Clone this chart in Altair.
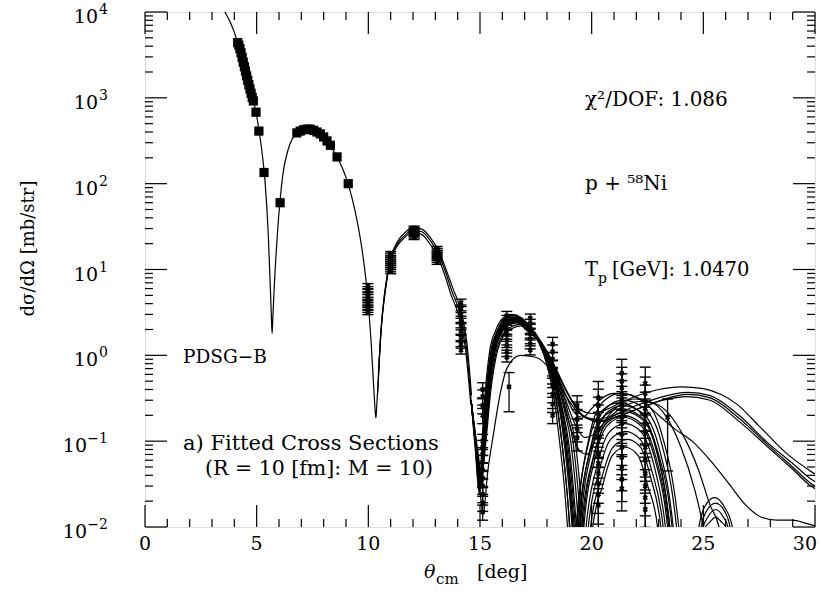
import altair as alt
import pandas as pd

FONT = "DejaVu Serif"
W, H = 670, 515

# ---------------- fitted curves (x = theta_cm [deg], y = dsigma/dOmega [mb/str]) ----------------
fit_common = [(3.50, 11000), (3.58, 10000), (3.85, 7300), (4.12, 4680), (4.39, 2630), (4.66, 1380),
              (4.84, 940), (4.97, 680), (5.10, 420), (5.24, 233), (5.37, 110), (5.51, 29), (5.60, 7.5),
              (5.66, 2.8), (5.69, 1.8), (5.72, 2.6), (5.78, 5.8), (5.91, 22), (6.05, 65), (6.18, 132),
              (6.40, 245), (6.81, 390), (7.30, 435), (7.75, 390), (8.28, 280), (8.60, 205), (8.87, 145),
              (9.09, 100), (9.40, 49), (9.72, 17), (9.94, 5.8), (10.12, 1.5), (10.25, 0.39), (10.31, 0.22),
              (10.34, 0.186), (10.37, 0.24), (10.43, 0.45), (10.57, 2.0), (10.75, 5.8), (10.97, 12.3),
              (11.28, 19.5), (11.64, 25), (12.00, 29), (12.40, 27.5), (12.76, 22), (13.12, 15.5),
              (13.43, 9.8), (13.75, 5.5), (14.10, 3.1), (14.38, 1.3), (14.60, 0.30)]
fit_band_hi = [(10.45, 0.6), (10.60, 2.4), (10.80, 6.6), (11.00, 13.5), (11.30, 21), (11.65, 27), (12.00, 31),
               (12.40, 29.5), (12.80, 23), (13.15, 16.5), (13.45, 10.5), (13.80, 5.9), (14.15, 3.3),
               (14.42, 1.35), (14.62, 0.34)]
fit_band_lo = [(10.42, 0.36), (10.55, 1.7), (10.72, 5.0), (10.94, 11.2), (11.25, 18), (11.62, 23.5), (12.00, 27),
               (12.40, 25.5), (12.72, 20.5), (13.08, 14.5), (13.40, 9.0), (13.70, 5.1), (14.05, 2.9),
               (14.34, 1.25), (14.58, 0.28)]
fit_n01 = [(14.60, 0.30), (14.82, 0.079), (15.00, 0.027), (15.14, 0.10), (15.31, 0.39), (15.54, 1.15), (15.81, 1.99),
           (16.12, 2.75), (16.43, 3.0), (16.85, 2.75), (17.20, 2.24), (17.64, 1.53), (18.07, 0.78), (18.42, 0.305),
           (18.66, 0.10), (18.89, 0.027), (19.02, 0.01), (19.185, 0.002), (19.35, 0.01), (19.935, 0.126),
           (20.52, 0.29), (21.30, 0.36), (22.34, 0.29), (23.12, 0.126), (23.90, 0.01), (24.05, 0.004),
           (24.60, 0.004), (24.80, 0.01), (25.05, 0.017), (25.50, 0.022), (25.95, 0.017), (26.30, 0.01), (26.50, 0.004)]
fit_n02 = [(14.60, 0.30), (14.835, 0.079), (15.015, 0.03), (15.165, 0.10), (15.345, 0.39), (15.59, 1.15), (15.86, 1.95),
           (16.17, 2.65), (16.505, 2.9), (16.88, 2.65), (17.24, 2.16), (17.69, 1.47), (18.14, 0.76), (18.50, 0.295),
           (18.76, 0.10), (18.99, 0.027), (19.12, 0.01), (19.285, 0.002), (19.45, 0.01), (20.035, 0.105),
           (20.62, 0.24), (21.40, 0.30), (22.36, 0.24), (23.08, 0.105), (23.80, 0.01), (23.95, 0.004),
           (24.70, 0.004), (24.90, 0.01), (25.12, 0.015), (25.55, 0.019), (25.97, 0.015), (26.20, 0.01), (26.40, 0.004)]
fit_n03 = [(14.60, 0.30), (14.805, 0.079), (14.985, 0.025), (15.115, 0.10), (15.275, 0.39), (15.49, 1.15), (15.76, 1.92),
           (16.07, 2.56), (16.48, 2.8), (16.895, 2.56), (17.26, 2.09), (17.715, 1.42), (18.175, 0.73), (18.54, 0.285),
           (18.81, 0.10), (19.04, 0.027), (19.17, 0.01), (19.335, 0.002), (19.50, 0.01), (20.07, 0.091),
           (20.64, 0.21), (21.40, 0.26), (22.30, 0.21), (22.98, 0.091), (23.65, 0.01), (23.80, 0.004)]
fit_n04 = [(14.60, 0.30), (14.85, 0.079), (15.03, 0.032), (15.19, 0.10), (15.38, 0.39), (15.64, 1.15), (15.91, 1.88),
           (16.22, 2.47), (16.58, 2.7), (16.91, 2.47), (17.28, 2.01), (17.74, 1.37), (18.21, 0.70), (18.585, 0.275),
           (18.86, 0.10), (19.09, 0.027), (19.22, 0.01), (19.41, 0.002), (19.60, 0.01), (20.17, 0.077),
           (20.74, 0.176), (21.50, 0.22), (22.30, 0.176), (22.90, 0.077), (23.50, 0.01), (23.65, 0.004)]
fit_n05 = [(14.60, 0.30), (14.82, 0.079), (15.00, 0.028), (15.14, 0.10), (15.31, 0.39), (15.54, 1.15), (15.81, 1.85),
           (16.12, 2.38), (16.555, 2.6), (16.925, 2.38), (17.30, 1.94), (17.765, 1.32), (18.245, 0.68), (18.63, 0.265),
           (18.91, 0.10), (19.14, 0.027), (19.27, 0.01), (19.46, 0.002), (19.65, 0.01), (20.175, 0.0665),
           (20.70, 0.152), (21.40, 0.19), (22.20, 0.152), (22.80, 0.0665), (23.40, 0.01), (23.55, 0.004)]
fit_n06 = [(14.60, 0.30), (14.865, 0.079), (15.045, 0.035), (15.215, 0.10), (15.415, 0.39), (15.69, 1.15), (15.96, 1.81),
           (16.27, 2.29), (16.655, 2.5), (16.94, 2.29), (17.32, 1.86), (17.79, 1.27), (18.28, 0.65), (18.67, 0.254),
           (18.96, 0.10), (19.19, 0.027), (19.32, 0.01), (19.535, 0.002), (19.75, 0.01), (20.275, 0.056),
           (20.80, 0.128), (21.50, 0.16), (22.22, 0.128), (22.76, 0.056), (23.30, 0.01), (23.45, 0.004)]
fit_n07 = [(14.60, 0.30), (14.85, 0.079), (15.03, 0.03), (15.19, 0.10), (15.38, 0.39), (15.64, 1.15), (15.91, 1.78),
           (16.22, 2.2), (16.68, 2.4), (16.97, 2.2), (17.36, 1.79), (17.84, 1.22), (18.35, 0.63), (18.755, 0.244),
           (19.06, 0.10), (19.29, 0.027), (19.42, 0.01), (19.635, 0.002), (19.85, 0.01), (20.345, 0.0455),
           (20.84, 0.104), (21.50, 0.13), (22.18, 0.104), (22.69, 0.0455), (23.20, 0.01), (23.35, 0.004)]
fit_n08 = [(14.60, 0.30), (14.88, 0.079), (15.06, 0.036), (15.24, 0.10), (15.45, 0.39), (15.74, 1.15), (16.01, 1.74),
           (16.32, 2.1), (16.78, 2.3), (17.00, 2.1), (17.40, 1.72), (17.89, 1.17), (18.42, 0.60), (18.84, 0.234),
           (19.16, 0.10), (19.39, 0.027), (19.52, 0.01), (19.735, 0.002), (19.95, 0.01), (20.445, 0.037),
           (20.94, 0.084), (21.60, 0.105), (22.20, 0.084), (22.65, 0.037), (23.10, 0.01), (23.25, 0.004)]
fit_n09 = [(14.60, 0.30), (14.895, 0.079), (15.075, 0.04), (15.265, 0.10), (15.485, 0.39), (15.79, 1.15), (16.06, 1.70),
           (16.37, 2.01), (16.855, 2.2), (17.03, 2.01), (17.44, 1.64), (17.94, 1.12), (18.49, 0.57), (18.925, 0.224),
           (19.26, 0.10), (19.49, 0.027), (19.62, 0.01), (19.835, 0.002), (20.05, 0.01), (20.485, 0.03),
           (20.92, 0.068), (21.50, 0.085), (22.08, 0.068), (22.515, 0.03), (22.95, 0.01), (23.10, 0.004)]
fit_n10 = [(14.60, 0.30), (14.79, 0.079), (14.97, 0.024), (15.09, 0.10), (15.24, 0.39), (15.44, 1.15), (15.71, 1.97),
           (16.02, 2.7), (16.33, 2.95), (16.82, 2.7), (17.16, 2.2), (17.59, 1.5), (18.00, 0.77), (18.33, 0.30),
           (18.56, 0.10), (18.79, 0.027), (18.92, 0.01), (19.11, 0.002), (19.30, 0.01), (19.87, 0.098),
           (20.44, 0.224), (21.20, 0.28), (22.12, 0.224), (22.81, 0.098), (23.50, 0.01), (23.65, 0.004),
           (24.80, 0.004), (25.00, 0.01), (25.20, 0.013), (25.55, 0.016), (25.90, 0.013), (26.10, 0.01), (26.30, 0.004)]
fit_n11 = [(14.60, 0.30), (14.82, 0.079), (15.00, 0.026), (15.14, 0.10), (15.31, 0.39), (15.54, 1.15), (15.81, 1.90),
           (16.12, 2.52), (16.43, 2.75), (16.85, 2.52), (17.20, 2.05), (17.64, 1.40), (18.07, 0.72), (18.42, 0.28),
           (18.66, 0.10), (18.89, 0.027), (19.02, 0.01), (19.21, 0.002), (19.40, 0.01), (19.97, 0.084),
           (20.54, 0.192), (21.30, 0.24), (22.22, 0.192), (22.91, 0.084), (23.60, 0.01), (23.75, 0.004),
           (24.90, 0.004), (25.10, 0.01), (25.30, 0.0115), (25.55, 0.013), (25.80, 0.0115), (26.00, 0.01), (26.20, 0.004)]
fit_n12 = [(14.60, 0.30), (14.835, 0.079), (15.015, 0.029), (15.165, 0.10), (15.345, 0.39), (15.59, 1.15), (15.86, 1.85),
           (16.17, 2.38), (16.53, 2.6), (16.895, 2.38), (17.26, 1.94), (17.715, 1.32), (18.175, 0.68), (18.54, 0.265),
           (18.81, 0.10), (19.04, 0.027), (19.17, 0.01), (19.36, 0.002), (19.55, 0.01), (20.105, 0.07),
           (20.66, 0.16), (21.40, 0.20), (22.22, 0.16), (22.84, 0.07), (23.45, 0.01), (23.60, 0.004)]
fit_h1 = [(14.60, 0.30), (14.835, 0.079), (15.015, 0.03), (15.165, 0.10), (15.345, 0.39), (15.59, 1.15), (15.86, 1.85),
          (16.17, 2.4), (16.55, 2.6), (16.95, 2.4), (17.35, 1.95), (17.80, 1.35), (18.20, 0.88), (18.60, 0.52),
          (19.00, 0.33), (19.50, 0.23), (20.00, 0.21), (20.60, 0.23), (21.40, 0.29), (22.20, 0.35), (23.00, 0.40),
          (24.00, 0.43), (25.00, 0.41), (25.80, 0.35), (26.50, 0.27), (27.50, 0.15), (28.70, 0.073), (29.90, 0.043),
          (30.30, 0.037)]
fit_h2 = [(14.60, 0.30), (14.85, 0.079), (15.03, 0.03), (15.19, 0.10), (15.38, 0.39), (15.64, 1.15), (15.91, 1.8),
          (16.22, 2.3), (16.60, 2.5), (17.00, 2.3), (17.40, 1.85), (17.85, 1.28), (18.30, 0.80), (18.70, 0.48),
          (19.10, 0.30), (19.60, 0.20), (20.20, 0.18), (21.00, 0.20), (22.00, 0.26), (23.00, 0.32), (24.30, 0.37),
          (25.30, 0.34), (26.60, 0.20), (27.90, 0.095), (29.00, 0.055), (29.90, 0.035), (30.30, 0.031)]
fit_h3 = [(14.60, 0.30), (14.85, 0.079), (15.03, 0.03), (15.19, 0.10), (15.38, 0.39), (15.64, 1.15), (15.91, 1.75),
          (16.20, 2.2), (16.60, 2.4), (17.00, 2.2), (17.40, 1.8), (17.90, 1.2), (18.35, 0.72), (18.80, 0.42),
          (19.20, 0.27), (19.70, 0.19), (20.30, 0.17), (21.10, 0.19), (22.10, 0.24), (23.10, 0.30), (24.30, 0.35),
          (25.30, 0.32), (26.60, 0.185), (27.90, 0.09), (29.00, 0.05), (29.90, 0.031), (30.30, 0.027)]
fit_h4 = [(14.60, 0.30), (14.85, 0.07), (15.05, 0.02), (15.14, 0.014), (15.35, 0.045), (15.60, 0.12), (15.90, 0.35),
          (16.20, 0.70), (16.80, 1.0), (17.50, 0.95), (18.10, 0.70), (18.60, 0.43), (19.30, 0.23), (19.90, 0.18),
          (20.50, 0.175), (21.30, 0.20), (22.30, 0.25), (23.20, 0.30), (24.30, 0.33), (25.30, 0.30), (26.60, 0.17),
          (27.90, 0.085), (29.00, 0.047), (29.90, 0.029), (30.30, 0.026)]
fit_t1 = [(14.60, 0.30), (14.82, 0.079), (15.00, 0.03), (15.14, 0.10), (15.31, 0.39), (15.54, 1.15), (15.81, 1.9),
          (16.12, 2.5), (16.50, 2.7), (16.90, 2.5), (17.30, 2.0), (17.75, 1.35), (18.20, 0.80), (18.70, 0.42),
          (19.20, 0.22), (19.60, 0.19), (20.00, 0.24), (20.50, 0.32), (21.00, 0.36), (21.60, 0.35), (22.30, 0.29),
          (23.00, 0.20), (23.70, 0.14), (24.50, 0.10), (25.30, 0.06), (26.10, 0.033), (26.90, 0.018), (27.60, 0.013),
          (28.30, 0.012), (29.00, 0.012), (29.60, 0.011), (30.30, 0.0098)]
fit_e1 = [(14.60, 0.30), (14.835, 0.079), (15.015, 0.03), (15.165, 0.10), (15.345, 0.39), (15.59, 1.15), (15.86, 1.9),
          (16.17, 2.5), (16.55, 2.7), (16.95, 2.45), (17.35, 1.95), (17.80, 1.3), (18.25, 0.70), (18.70, 0.30),
          (19.10, 0.13), (19.50, 0.075), (19.80, 0.07), (20.20, 0.11), (20.70, 0.19), (21.30, 0.27), (21.90, 0.31),
          (22.60, 0.29), (23.30, 0.20), (24.00, 0.085), (24.60, 0.028), (25.00, 0.01), (25.20, 0.005)]
fit_e2 = [(14.60, 0.30), (14.85, 0.079), (15.03, 0.03), (15.19, 0.10), (15.38, 0.39), (15.64, 1.15), (15.91, 1.85),
          (16.22, 2.4), (16.60, 2.6), (17.00, 2.35), (17.40, 1.9), (17.85, 1.25), (18.30, 0.70), (18.80, 0.32),
          (19.30, 0.15), (19.70, 0.11), (20.10, 0.12), (20.60, 0.17), (21.30, 0.24), (22.10, 0.29), (22.70, 0.28),
          (23.30, 0.23), (24.00, 0.13), (24.80, 0.045), (25.30, 0.018), (25.70, 0.01), (25.90, 0.005)]

curve_sets = {
    "common": fit_common, "band_hi": fit_band_hi, "band_lo": fit_band_lo,
    "n01": fit_n01, "n02": fit_n02, "n03": fit_n03, "n04": fit_n04, "n05": fit_n05, "n06": fit_n06,
    "n07": fit_n07, "n08": fit_n08, "n09": fit_n09, "n10": fit_n10, "n11": fit_n11, "n12": fit_n12,
    "h1": fit_h1, "h2": fit_h2, "h3": fit_h3, "h4": fit_h4, "t1": fit_t1, "e1": fit_e1, "e2": fit_e2,
}

# ---------------- measured data ----------------
sq_x = [4.15, 4.20, 4.25, 4.30, 4.35, 4.40, 4.45, 4.50, 4.55, 4.60, 4.65, 4.70, 4.75, 4.80, 4.85, 4.97, 5.10,
        5.33, 6.05, 6.80, 6.95, 7.10, 7.25, 7.40, 7.55, 7.70, 7.85, 8.00, 8.15, 8.30, 8.60, 9.10]
sq_y = [4400, 4100, 3750, 3350, 2950, 2600, 2300, 2050, 1800, 1600, 1420, 1270, 1130, 1010, 920, 680, 410,
        135, 60, 390, 410, 425, 432, 432, 418, 400, 380, 350, 315, 280, 205, 100]

grp_x = [9.98, 11.00, 12.05, 13.08, 14.15, 15.12, 16.20, 17.25, 18.25, 19.35, 20.30, 21.35, 22.40]
grp_err = [0.07, 0.06, 0.05, 0.06, 0.10, 0.20, 0.12, 0.12, 0.20, 0.30, 0.55, 0.45, 0.55]
grp_vals = [
    [3.2, 3.4, 3.6, 3.9, 4.1, 4.4, 4.8, 5.1, 5.5, 5.9, 6.4],
    [9.5, 10.0, 10.6, 11.2, 11.8, 12.4, 13.1, 13.8, 14.6, 15.3],
    [23.5, 24.5, 25.5, 26.5, 27.5, 28.5, 29.5, 30.5],
    [12.2, 12.9, 13.6, 14.3, 15.0, 15.8, 16.6, 17.5],
    [1.15, 1.35, 1.6, 1.9, 2.2, 2.6, 3.0, 3.5, 4.1],
    [0.015, 0.019, 0.024, 0.03, 0.037, 0.046, 0.057, 0.07, 0.085, 0.1, 0.2, 0.26, 0.33, 0.4],
    [0.95, 1.1, 1.3, 1.5, 1.75, 2.0, 2.3, 2.6, 2.9],
    [1.15, 1.35, 1.55, 1.8, 2.05, 2.35, 2.7],
    [0.2, 0.27, 0.35, 0.45, 0.58, 0.72, 0.9, 1.1, 1.35],
    [0.11, 0.14, 0.18, 0.22, 0.26],
    [0.018, 0.024, 0.032, 0.042, 0.055, 0.07, 0.11, 0.14, 0.17, 0.21, 0.26, 0.32],
    [0.028, 0.036, 0.048, 0.065, 0.085, 0.12, 0.16, 0.19, 0.22, 0.26, 0.3, 0.35, 0.42, 0.5, 0.62],
    [0.016, 0.022, 0.03, 0.042, 0.06, 0.085, 0.13, 0.16, 0.2, 0.24, 0.29, 0.36, 0.47],
]
single_x = [16.30, 23.40]
single_y = [0.43, 0.19]
single_lo = [0.22, 0.045]
single_hi = [0.63, 0.31]

x_major = [0, 5, 10, 15, 20, 25, 30]
x_labels = ["0", "5", "10", "15", "20", "25", "30"]
x_minor = [v for v in range(1, 30) if v % 5 != 0]
y_major = [0.01, 0.1, 1, 10, 100, 1000, 10000]
y_label_base = ["10", "10", "10", "10", "10", "10", "10"]
y_label_exp = ["−2", "−1", "0", "1", "2", "3", "4"]
y_minor = [m * 10.0 ** k for k in range(-2, 4) for m in range(2, 10)]

# ---------------- tables ----------------
rows = []
for name, pts in curve_sets.items():
    for i, (x, y) in enumerate(pts):
        rows.append({"curve": name, "i": i, "x": x, "y": y})
curves_df = pd.DataFrame(rows)

sq_df = pd.DataFrame({"x": sq_x, "y": sq_y})

prow = []
for gx, ge, vals in zip(grp_x, grp_err, grp_vals):
    for v in vals:
        prow.append({"x": gx, "y": v, "lo": v * (1 - ge), "hi": v * (1 + ge)})
for x, y, lo, hi in zip(single_x, single_y, single_lo, single_hi):
    prow.append({"x": x, "y": y, "lo": lo, "hi": hi})
pts_df = pd.DataFrame(prow)

ylab_df = pd.DataFrame({"v": y_major, "base": y_label_base, "exp": y_label_exp})
xlab_df = pd.DataFrame({"v": x_major[:-1], "lab": x_labels[:-1]})
xlab_last = pd.DataFrame({"v": x_major[-1:], "lab": x_labels[-1:]})

xs = alt.Scale(domain=[0, 30], nice=False, zero=False)
ys = alt.Scale(type="log", domain=[0.01, 10000], nice=False)

xaxis = alt.Axis(values=x_major, ticks=False, domain=False, grid=False, title=None, labels=False)
yaxis = alt.Axis(values=y_major, ticks=False, domain=False, grid=False, labels=False,
                 title="dσ/dΩ  [mb/str]", titleFont=FONT, titleFontSize=18, titleFontWeight="normal",
                 titleColor="black", titleX=-117, titleY=236, titleAlign="center", titleBaseline="middle",
                 titleAngle=270)

X = lambda f: alt.X(f, type="quantitative", scale=xs, axis=xaxis)
Y = lambda f: alt.Y(f, type="quantitative", scale=ys, axis=yaxis)

lines = alt.Chart(curves_df).mark_line(interpolate="monotone", clip=True, color="black", strokeWidth=1.2).encode(
    x=X("x"), y=Y("y"), detail="curve:N", order="i:Q")

squares = alt.Chart(sq_df).mark_square(size=85, color="black", opacity=1, clip=True).encode(x=X("x"), y=Y("y"))

bars = alt.Chart(pts_df).mark_rule(color="black", strokeWidth=1.3, clip=True).encode(
    x=X("x"), y=Y("lo"), y2="hi:Q")
cap_lo = alt.Chart(pts_df).mark_tick(orient="horizontal", size=11, thickness=1.4, color="black", opacity=1,
                                     clip=True).encode(x=X("x"), y=Y("lo"))
cap_hi = alt.Chart(pts_df).mark_tick(orient="horizontal", size=11, thickness=1.4, color="black", opacity=1,
                                     clip=True).encode(x=X("x"), y=Y("hi"))
marks_x = alt.Chart(pts_df).mark_point(shape="cross", angle=45, size=30, filled=True, color="black", opacity=1,
                                       clip=True).encode(x=X("x"), y=Y("y"))

# y tick labels: "10" plus a raised exponent
ylab_exp = alt.Chart(ylab_df).mark_text(align="right", baseline="middle", font=FONT, fontSize=14, dy=-2,
                                        color="black").encode(y=Y("v"), x=alt.value(-37), text="exp:N")
ylab_base_pos = alt.Chart(ylab_df).transform_filter("datum.v >= 1").mark_text(
    align="right", baseline="middle", font=FONT, fontSize=19, dy=5, color="black").encode(
    y=Y("v"), x=alt.value(-47), text="base:N")
ylab_base_neg = alt.Chart(ylab_df).transform_filter("datum.v < 1").mark_text(
    align="right", baseline="middle", font=FONT, fontSize=19, dy=5, color="black").encode(
    y=Y("v"), x=alt.value(-58), text="base:N")

xlabels = alt.Chart(xlab_df).mark_text(align="center", baseline="top", font=FONT, fontSize=19,
                                       color="black").encode(x=X("v"), y=alt.value(H + 8), text="lab:N")
xlabel_end = alt.Chart(xlab_last).mark_text(align="right", baseline="top", font=FONT, fontSize=19, dx=2,
                                            color="black").encode(x=X("v"), y=alt.value(H + 8), text="lab:N")

def xticks(vals, length):
    d = pd.DataFrame({"v": vals})
    b = alt.Chart(d).mark_rule(color="black", strokeWidth=1.2).encode(x=X("v"), y=alt.value(H), y2=alt.value(H - length))
    t = alt.Chart(d).mark_rule(color="black", strokeWidth=1.2).encode(x=X("v"), y=alt.value(0), y2=alt.value(length))
    return [b, t]

def yticks(vals, length):
    d = pd.DataFrame({"v": vals})
    l = alt.Chart(d).mark_rule(color="black", strokeWidth=1.2).encode(y=Y("v"), x=alt.value(0), x2=alt.value(length))
    r = alt.Chart(d).mark_rule(color="black", strokeWidth=1.2).encode(y=Y("v"), x=alt.value(W), x2=alt.value(W - length))
    return [l, r]

one = pd.DataFrame({"a": [0]})

def label(text, x, y, size=20, align="left", style="normal"):
    return alt.Chart(one).mark_text(text=text, fontSize=size, align=align, baseline="alphabetic",
                                    font=FONT, fontStyle=style, color="black").encode(
        x=alt.value(x), y=alt.value(y))

texts = [
    label("χ²/DOF: 1.086", 440, 94),
    label("p + ⁵⁸Ni", 440, 178),
    label("T", 440, 264, size=19.5),
    label("p", 453, 271, size=14),
    label("[GeV]: 1.0470", 467, 264, size=19.5),
    label("PDSG−B", 38, 351, size=18.5),
    label("a) Fitted Cross Sections", 38, 438, size=21),
    label("(R = 10 [fm]: M = 10)", 60, 463, size=20.5),
    label("θ", 279, 566, size=19, style="italic"),
    label("cm", 291, 572, size=15),
    label("[deg]", 332, 566, size=19),
]

layers = ([lines, bars, cap_lo, cap_hi, marks_x, squares, ylab_exp, ylab_base_pos, ylab_base_neg,
           xlabels, xlabel_end]
          + xticks(x_major, 22) + xticks(x_minor, 8) + yticks(y_major, 22) + yticks(y_minor, 8) + texts)

chart = alt.layer(*layers).properties(
    width=W, height=H,
    padding={"left": 145, "top": 12, "right": 5, "bottom": 68},
    autosize=alt.AutoSizeParams(type="none"),
).configure_view(stroke="black", strokeWidth=1.5).configure(background="white")

chart.save("out.html", embed_options={"renderer": "svg", "actions": False})
